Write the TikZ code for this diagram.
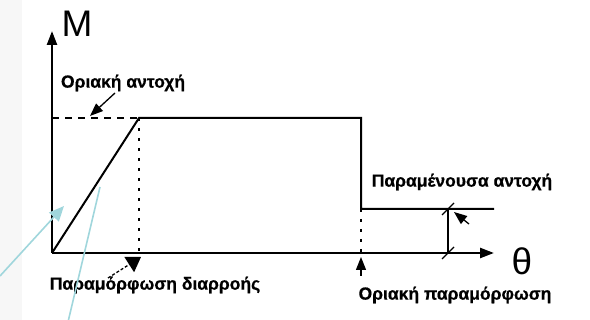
\documentclass[tikz,border=0pt]{standalone}
\usepackage{fontspec}
\setmainfont{Liberation Sans}
\newfontfamily\lblfont[FakeBold=0.6]{Liberation Sans Bold}
\usetikzlibrary{arrows.meta,calc}
\definecolor{leadblue}{RGB}{160,214,220}
\tikzset{
  axisline/.style={line width=2.4pt,-{Triangle[length=14pt,width=10pt]}},
  curve/.style={line width=2pt},
  dashedlvl/.style={line width=2pt,dash pattern=on 7pt off 6pt},
  dottedlvl/.style={line width=2.4pt,dash pattern=on 3pt off 7pt},
  lbl/.style={font=\lblfont\fontsize{17.5}{19}\selectfont,inner sep=0pt},
  axlbl/.style={font=\fontsize{37}{40}\selectfont,inner sep=0pt},
  lead/.style={line width=1.3pt,-{Triangle[length=13pt,width=10pt]}},
  leaddash/.style={line width=1.3pt,dash pattern=on 3pt off 2pt,-{Triangle[length=14pt,width=18pt]}},
  tick/.style={line width=1.2pt},
  blueline/.style={draw=leadblue,line width=1.6pt},
}
\begin{document}
\begin{tikzpicture}[x=1pt,y=-1pt]
\useasboundingbox (0,0) rectangle (590,320);
\fill[black!3] (0,0) rectangle (22,320);

% key points of the moment-rotation diagram
\coordinate (O) at (52,253);
\coordinate (Ytip) at (52,31);
\coordinate (Xtip) at (494,253);
\coordinate (Ylev) at (52,118);
\coordinate (Yp) at (139,118);
\coordinate (Up) at (361,118);
\coordinate (Ur) at (361,209);
\coordinate (Re) at (494,209);
\coordinate (Yx) at (139,253);
\coordinate (Ux) at (361,253);
\coordinate (Dt) at (448,209);
\coordinate (Db) at (448,253);

% axes
\draw[axisline] (O) -- (Ytip);
\draw[axisline] (O) -- (Xtip);
\node[axlbl] (M) at (77,24) {M};
\node[axlbl] (th) at (522,261) {θ};

% moment curve
\draw[curve] (O) -- (Yp) -- (Up) -- (Ur) -- (Re);
\draw[dashedlvl] (Ylev) -- (Yp);
\draw[dottedlvl] (Yp) -- (Yx);
\draw[dottedlvl] (Ur) -- (Ux);

% residual strength dimension
\draw[line width=1.6pt] (Dt) -- (Db);
\draw[tick] ([shift={(-6,6)}]Dt) -- ([shift={(6,-6)}]Dt);
\draw[tick] ([shift={(-6,6)}]Db) -- ([shift={(6,-6)}]Db);

% labels
\node[lbl] (su) at (123,83) {Οριακή αντοχή};
\node[lbl] (yd) at (155,285) {Παραμόρφωση διαρροής};
\node[lbl] (rs) at (462,182) {Παραμένουσα αντοχή};
\node[lbl] (ud) at (455,295) {Οριακή παραμόρφωση};

% leaders
\coordinate (suS) at (115,93);
\coordinate (suT) at (90,116);
\coordinate (ydS) at (108,278);
\coordinate (ydT) at (141,257);
\coordinate (rsT) at (454,212);
\coordinate (rsS) at (469,224);
\coordinate (udS) at (361,276);
\coordinate (udT) at (361,257);
\draw[lead] (suS) -- (suT);
\draw[leaddash] (ydS) -- (ydT);
\draw[lead] (rsS) -- (rsT);
\draw[lead] (udS) -- (udT);

% light blue pointers
\coordinate (b1s) at (0,276);
\coordinate (b1e) at (64,206);
\coordinate (b2s) at (68,322);
\coordinate (b2e) at (100,187);
\draw[blueline,-{Triangle[length=15pt,width=13pt]}] (b1s) -- (b1e);
\draw[blueline] (b2s) -- (b2e);
\end{tikzpicture}
\end{document}
